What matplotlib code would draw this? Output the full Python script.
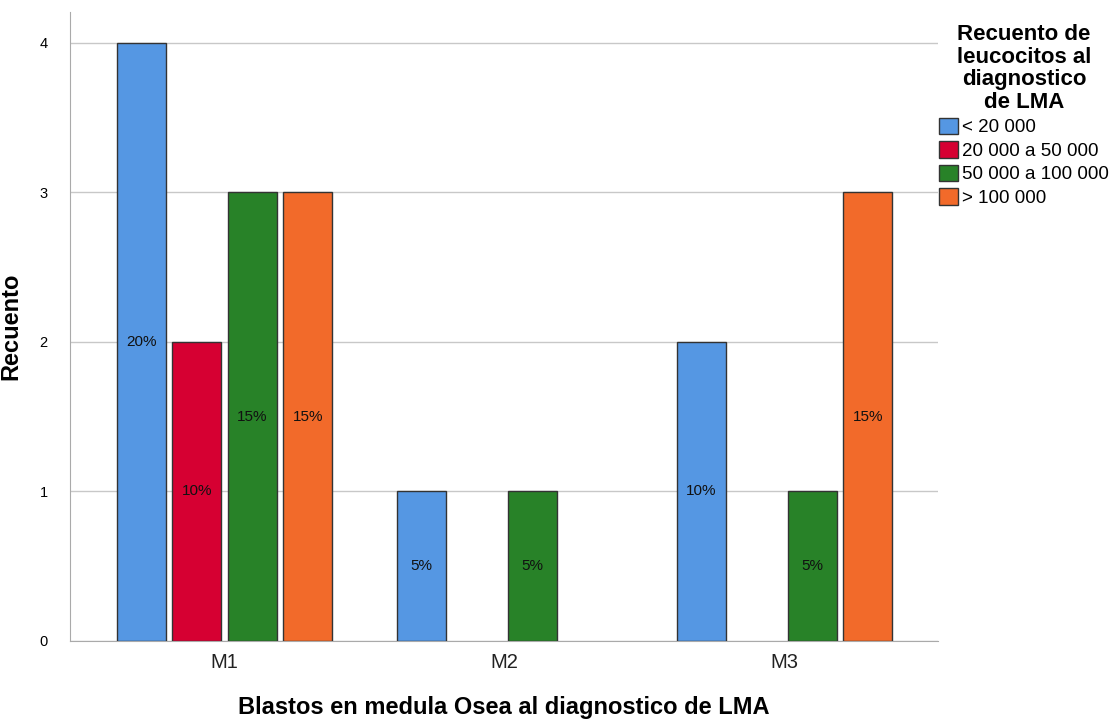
import numpy as np
import matplotlib.pyplot as plt

plt.rcParams['font.family'] = ['Liberation Sans', 'DejaVu Sans']

groups = ['M1', 'M2', 'M3']
series = ['< 20 000', '20 000 a 50 000', '50 000 a 100 000', '> 100 000']
counts = {
    '< 20 000':         [4, 1, 2],
    '20 000 a 50 000':  [2, 0, 0],
    '50 000 a 100 000': [3, 1, 1],
    '> 100 000':        [3, 0, 3],
}
colors = ['#5597E3', '#D60032', '#288228', '#F26A2A']

total = sum(sum(v) for v in counts.values())

fig = plt.figure(figsize=(11.18, 7.22), dpi=100)
ax = fig.add_axes([0.0626, 0.1122, 0.7764, 0.8712])

x = np.arange(len(groups))
slot = 0.198
width = 0.175
for i, (name, col) in enumerate(zip(series, colors)):
    off = (i - 1.5) * slot
    vals = counts[name]
    first = True
    for xi, v in zip(x, vals):
        if v == 0:
            continue
        ax.bar(xi + off, v, width=width, color=col, edgecolor='#333333', linewidth=1,
               label=name if first else '_', zorder=3)
        first = False
        ax.text(xi + off, v / 2, '%d%%' % round(100 * v / total), ha='center', va='center',
                fontsize=11, color='#111111', zorder=4)

ax.set_xlim(-0.552, 2.548)
ax.set_ylim(0, 4.207)
ax.set_yticks([0, 1, 2, 3, 4])
ax.set_xticks(x)
ax.set_xticklabels(groups, fontsize=14.5, color='#222222')
ax.tick_params(axis='y', length=0, labelsize=10.5, pad=16)
ax.tick_params(axis='x', length=0, pad=9)
ax.yaxis.grid(True, color='#c8c8c8', linewidth=1, zorder=0)
ax.set_axisbelow(True)
for s in ['top', 'right']:
    ax.spines[s].set_visible(False)
for s in ['left', 'bottom']:
    ax.spines[s].set_color('#aaaaaa')

ax.set_ylabel('Recuento', fontsize=17, fontweight='bold', labelpad=12)
ax.set_xlabel('Blastos en medula Osea al diagnostico de LMA', fontsize=17,
              fontweight='bold', labelpad=17)

leg = fig.legend(loc='upper left', bbox_to_anchor=(0.833, 0.977), frameon=False,
                 title='Recuento de\nleucocitos al\ndiagnostico\nde LMA',
                 fontsize=13.5, handlelength=1.0, handleheight=1.0, handletextpad=0.25,
                 labelspacing=0.25, borderaxespad=0)
plt.setp(leg.get_title(), fontweight='bold', fontsize=16, multialignment='center')
leg.get_title().set_linespacing(1.1)
leg._legend_box.align = 'center'

fig.savefig('out.png', dpi=100)
